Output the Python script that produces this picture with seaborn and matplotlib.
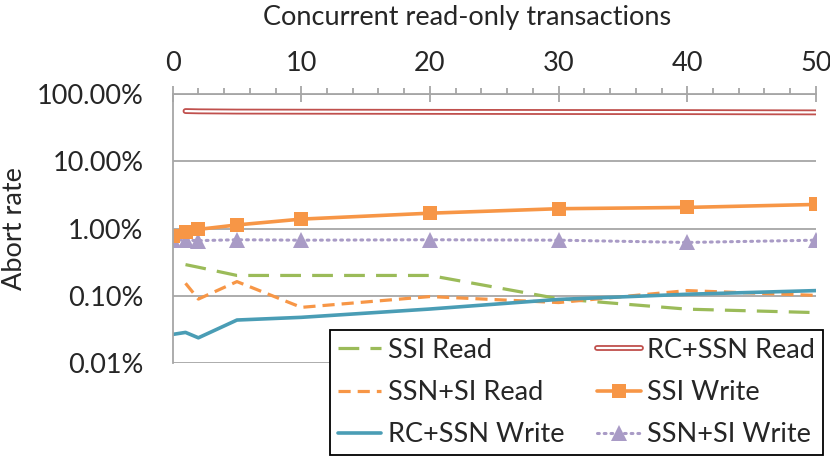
import numpy as np
import pandas as pd
import seaborn as sns
import matplotlib
matplotlib.use("Agg")
import matplotlib.pyplot as plt
import matplotlib.patheffects as pe
from matplotlib.ticker import FixedLocator, FuncFormatter, MultipleLocator

# concurrent read-only transactions
readers = [0, 1, 2, 5, 10, 20, 30, 40, 50]

# abort rate in percent (nan = no point)
ssi_read = [np.nan, 0.29, 0.265, 0.20, 0.20, 0.20, 0.09, 0.063, 0.056]
rc_ssn_read = [np.nan, 56.0, 55.5, 55.0, 54.8, 54.5, 54.2, 54.0, 53.5]
ssn_si_read = [np.nan, 0.153, 0.089, 0.162, 0.067, 0.097, 0.079, 0.119, 0.101]
ssi_write = [0.78, 0.89, 0.97, 1.13, 1.38, 1.69, 1.97, 2.06, 2.28]
rc_ssn_write = [0.0265, 0.0284, 0.0236, 0.0434, 0.0476, 0.0633, 0.088, 0.105, 0.119]
ssn_si_write = [0.68, 0.67, 0.66, 0.68, 0.67, 0.68, 0.67, 0.62, 0.67]

y_ticks = [0.01, 0.1, 1, 10, 100]

GREEN = "#9BBB59"
RED = "#C0504D"
ORANGE = "#F79646"
TEAL = "#4A9DB5"
PURPLE = "#A99BC6"
GRID = "#A6A6A6"

sns.set_style("white")
plt.rcParams["font.family"] = ["Lato", "DejaVu Sans"]
plt.rcParams["font.size"] = 19.5

df = pd.DataFrame({
    "readers": readers,
    "SSI Read": ssi_read,
    "RC+SSN Read": rc_ssn_read,
    "SSN+SI Read": ssn_si_read,
    "SSI Write": ssi_write,
    "RC+SSN Write": rc_ssn_write,
    "SSN+SI Write": ssn_si_write,
})

fig = plt.figure(figsize=(8.3, 4.57), dpi=100)
ax = fig.add_axes([0.208, 0.206, 0.775, 0.588])

# order: drawn bottom to top
sns.lineplot(data=df, x="readers", y="SSI Read", ax=ax, color=GREEN, lw=2.3,
             linestyle=(0, (6.5, 3.5)), label="SSI Read")
sns.lineplot(data=df, x="readers", y="SSN+SI Read", ax=ax, color=ORANGE, lw=2.3,
             linestyle=(0, (3.8, 2.2)), label="SSN+SI Read")
sns.lineplot(data=df, x="readers", y="RC+SSN Write", ax=ax, color=TEAL, lw=2.6,
             label="RC+SSN Write")
sns.lineplot(data=df, x="readers", y="SSN+SI Write", ax=ax, color=PURPLE, lw=2.2,
             linestyle=(0, (0.6, 1.6)), dash_capstyle="round",
             marker="^", markersize=11, markeredgewidth=0, label="SSN+SI Write")
sns.lineplot(data=df, x="readers", y="SSI Write", ax=ax, color=ORANGE, lw=2.6,
             marker="s", markersize=10, markeredgewidth=0, label="SSI Write")
sns.lineplot(data=df, x="readers", y="RC+SSN Read", ax=ax, color="white", lw=1.6,
             path_effects=[pe.Stroke(linewidth=4.2, foreground=RED), pe.Normal()],
             label="RC+SSN Read")

ax.set_yscale("log")
ax.set_ylim(0.01, 100)
ax.set_xlim(0, 50)
ax.yaxis.set_major_locator(FixedLocator(y_ticks))
ax.yaxis.set_minor_locator(FixedLocator([]))
ax.yaxis.set_major_formatter(FuncFormatter(lambda v, p: f"{v:.2f}%"))
ax.xaxis.set_major_locator(MultipleLocator(10))
ax.xaxis.set_minor_locator(MultipleLocator(2))

ax.xaxis.tick_top()
ax.xaxis.set_label_position("top")
ax.set_xlabel("Concurrent read-only transactions", labelpad=19)
ax.xaxis.label.set_x(0.458)
ax.set_ylabel("Abort rate")
ax.yaxis.set_label_coords(-0.226, 0.5)

ax.grid(axis="y", color=GRID, lw=1.3)
ax.grid(axis="x", visible=False)
for side in ["right", "bottom"]:
    ax.spines[side].set_visible(False)
for side in ["top", "left"]:
    ax.spines[side].set_color(GRID)
    ax.spines[side].set_linewidth(1.3)

ax.tick_params(axis="x", which="major", direction="inout", length=11.5, width=1.3,
               color=GRID, pad=7)
ax.tick_params(axis="x", which="minor", direction="out", length=4.5, width=1.3,
               color=GRID)
ax.tick_params(axis="y", which="major", direction="out", length=7, width=1.3,
               color=GRID, pad=14)

handles, labels = ax.get_legend_handles_labels()
order = ["SSI Read", "SSN+SI Read", "RC+SSN Write", "RC+SSN Read", "SSI Write", "SSN+SI Write"]
hd = dict(zip(labels, handles))
leg = ax.legend([hd[k] for k in order], order, ncol=2, loc="lower right",
                bbox_to_anchor=(0.992, 0.004), bbox_transform=fig.transFigure,
                frameon=True, fancybox=False, edgecolor="black", framealpha=1,
                handlelength=1.6, handletextpad=0.25, columnspacing=1.2,
                labelspacing=0.63, borderpad=0.3, borderaxespad=0)
leg.get_frame().set_linewidth(1.3)

fig.savefig("out.png", dpi=100)
